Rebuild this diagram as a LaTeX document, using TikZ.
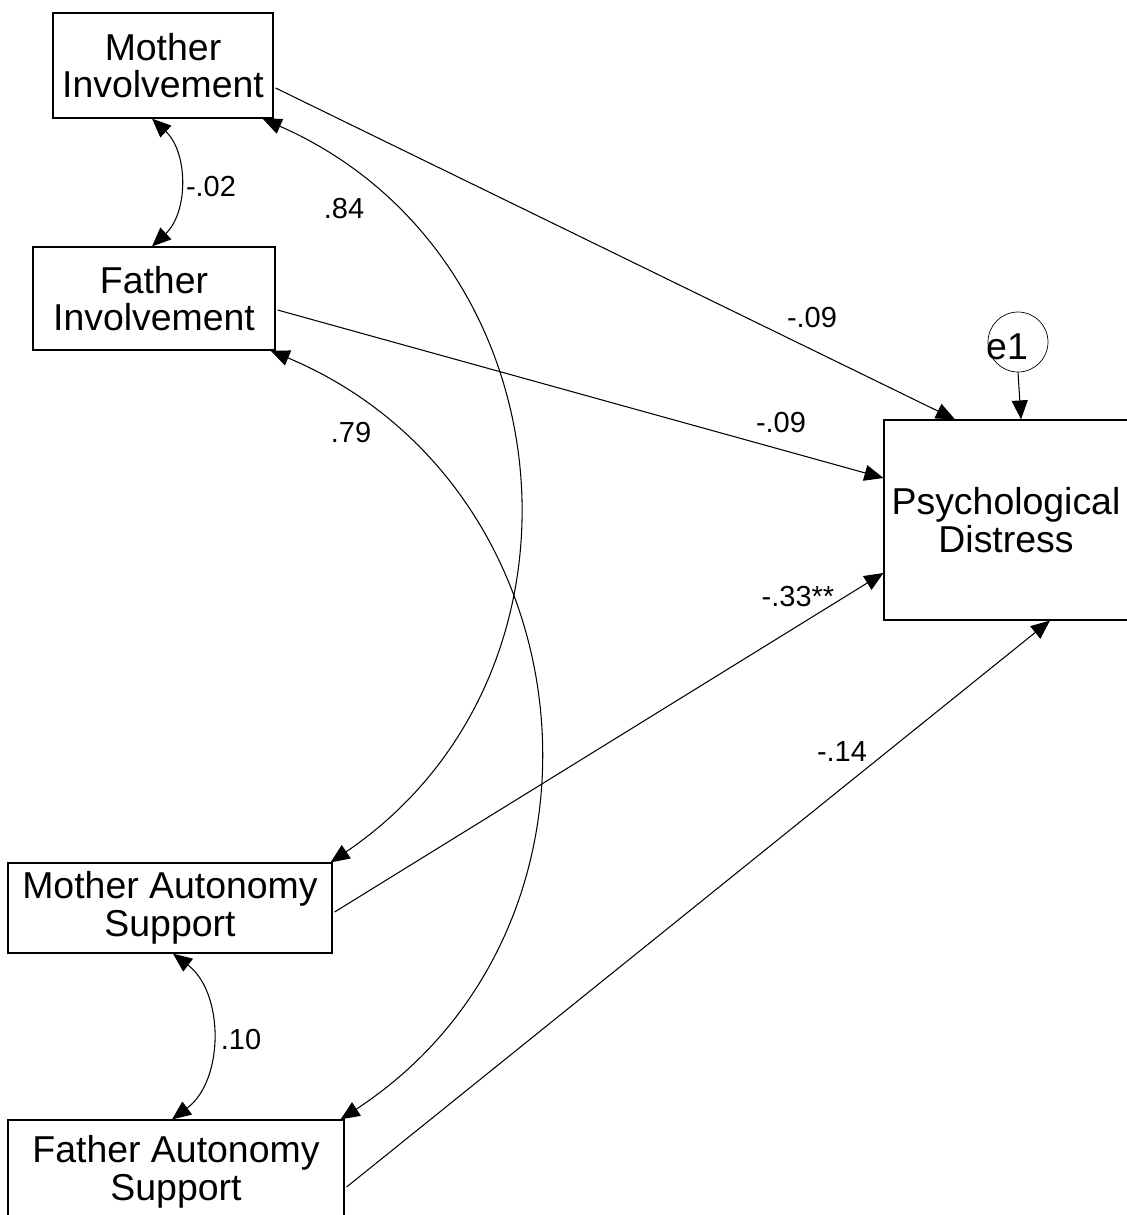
\documentclass[tikz,border=0pt]{standalone}
\usepackage{fontspec}
\setmainfont{Liberation Sans}
\usetikzlibrary{arrows.meta,calc}

\begin{document}
\begin{tikzpicture}[x=0.02cm, y=-0.02cm]
    \tikzstyle{every node} = [align=center, inner sep=0pt]
    \tikzstyle{var} = [draw, line width=0.7pt, font=\fontsize{21.3}{21.3}\selectfont]
    \tikzstyle{err} = [draw, circle, minimum size=1.2cm]
    \tikzstyle{coef} = [font=\fontsize{16.5}{16.5}\selectfont]
    \tikzstyle{path} = [line width=0.6pt, -{Triangle[length=0.38cm, width=0.32cm]}]
    \tikzstyle{cov} = [line width=0.6pt, {Triangle[length=0.38cm, width=0.32cm]}-{Triangle[length=0.38cm, width=0.32cm]}]
    \useasboundingbox (0,0) rectangle (1127,1215);
    % observed variables
    \node [var, minimum width=4.4cm, minimum height=2.1cm] (mi) at (163,65.5) {Mother\\Involvement};
    \node [var, minimum width=4.84cm, minimum height=2.06cm] (fi) at (154,298.5) {Father\\Involvement};
    \node [var, minimum width=6.48cm, minimum height=1.8cm] (mas) at (170,908) {Mother Autonomy\\Support};
    \node [var, minimum width=6.72cm, minimum height=2.08cm] (fas) at (176,1172) {Father Autonomy\\Support};
    \node [var, minimum width=4.88cm, minimum height=4cm] (pd) at (1006,520) {Psychological\\Distress};
    \node [err, label={[xshift=-0.22cm, yshift=-0.1cm, font=\fontsize{21.3}{21.3}\selectfont]center:e1}] (e1) at (1018,342) {};
    % regression paths
    \draw [path] ($(mi.east)+(2,22.5)$) -- ($(pd.north)+(-51,0)$);
    \draw [path] ($(fi.east)+(2,11.5)$) -- ($(pd.west)+(0,-42)$);
    \draw [path] ($(mas.east)+(2,4)$) -- ($(pd.west)+(0,53)$);
    \draw [path] ($(fas.east)+(2,15)$) -- ($(pd.south)+(44,0)$);
    \draw [path] (e1.south) -- ($(pd.north)+(15,0)$);
    % covariances
    \draw [cov] ($(mi.south)+(-11,0)$) to[bend left=47] ($(fi.north)+(-2,0)$);
    \draw [cov] ($(mi.south east)+(-11,0)$) to[bend left=61, looseness=1.15] ($(mas.north east)+(-2,0)$);
    \draw [cov] ($(fi.south east)+(-5,0)$) to[bend left=62, looseness=1.16] ($(fas.north east)+(-4,0)$);
    \draw [cov] ($(mas.south)+(3,0)$) to[bend left=53] ($(fas.north)+(-4,0)$);
    % coefficients
    \node [coef] (c1) at (812,318) {-.09};
    \node [coef] (c2) at (781,423) {-.09};
    \node [coef] (c3) at (798,597) {-.33**};
    \node [coef] (c4) at (842,752) {-.14};
    \node [coef] (c5) at (211,187) {-.02};
    \node [coef] (c6) at (344,209) {.84};
    \node [coef] (c7) at (351,433) {.79};
    \node [coef] (c8) at (241,1040) {.10};
\end{tikzpicture}
\end{document}
